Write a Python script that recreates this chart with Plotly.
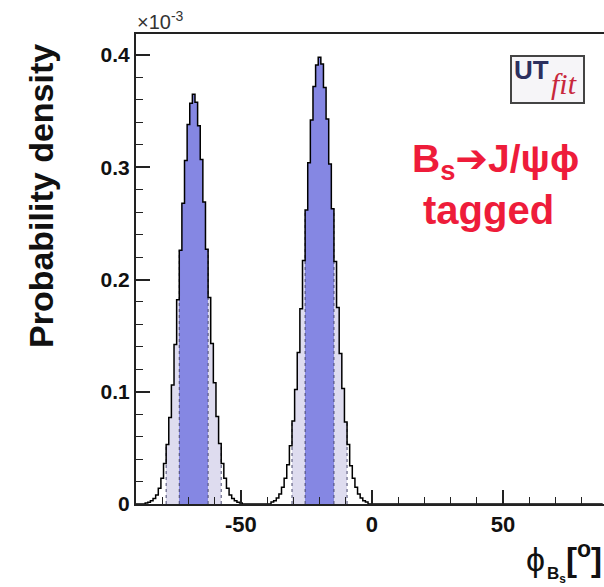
import plotly.graph_objects as go

# ---------------- data ----------------
# histogram of phi_Bs (1-degree bins, centres given), values in units of 1e-3
peak1_start = -86          # centre of first bin of peak 1
peak1_vals = [0.001, 0.0015, 0.003, 0.005, 0.008, 0.014, 0.023, 0.036, 0.053, 0.077,
              0.106, 0.142, 0.182, 0.226, 0.268, 0.306, 0.338, 0.357, 0.365, 0.358,
              0.337, 0.307, 0.269, 0.227, 0.184, 0.143, 0.108, 0.078, 0.054, 0.036,
              0.023, 0.014, 0.008, 0.005, 0.003, 0.0015, 0.001]
peak2_start = -38          # centre of first bin of peak 2
peak2_vals = [0.0017, 0.003, 0.0053, 0.009, 0.015, 0.023, 0.035, 0.052, 0.074, 0.102,
              0.135, 0.174, 0.217, 0.262, 0.304, 0.342, 0.372, 0.391, 0.398, 0.392,
              0.371, 0.343, 0.303, 0.263, 0.216, 0.175, 0.134, 0.103, 0.073, 0.053,
              0.034, 0.023, 0.015, 0.009, 0.0053, 0.003, 0.0017]
# probability intervals (68% dark, 95% light)
dark_bands = [(-73.5, -62.5), (-25.5, -14.5)]
light_bands = [(-78.5, -57.5), (-30.5, -9.5)]

x_range = [-90, 88.5]
y_range = [0, 0.4187]
y_tickvals = [0, 0.1, 0.2, 0.3, 0.4]
y_ticktext = ["0", "0.1", "0.2", "0.3", "0.4"]
x_tickvals = [-50, 0, 50]
x_ticktext = ["-50", "0", "50"]

# ---------------- build full histogram ----------------
centres = list(range(-90, 89))
vals = [0.0] * len(centres)
for start, pv in ((peak1_start, peak1_vals), (peak2_start, peak2_vals)):
    for i, v in enumerate(pv):
        vals[centres.index(start + i)] = v

DARK = "#8587e3"
LIGHT = "#dedcef"


def colour(c):
    for a, b in dark_bands:
        if a < c < b:
            return DARK
    for a, b in light_bands:
        if a < c < b:
            return LIGHT
    return "rgba(0,0,0,0)"


fig = go.Figure()
fig.add_trace(go.Bar(x=centres, y=vals, width=1,
                     marker=dict(color=[colour(c) for c in centres], line=dict(width=0)),
                     showlegend=False, hoverinfo="skip"))

# dotted edges of the bands
for bands in (light_bands, dark_bands):
    for a, b in bands:
        for e, inner in ((a, a + 0.5), (b, b - 0.5)):
            h = vals[centres.index(int(round(inner)))]
            fig.add_trace(go.Scatter(x=[e, e], y=[0, h], mode="lines",
                                     line=dict(color="#4a4a70", width=1, dash="dot"),
                                     showlegend=False, hoverinfo="skip"))

# step outline
fig.add_trace(go.Scatter(x=centres, y=vals, mode="lines", line_shape="hvh",
                         line=dict(color="black", width=1.5),
                         showlegend=False, hoverinfo="skip"))

FONT = "Liberation Sans, Arial, sans-serif"

fig.update_layout(
    width=604, height=587,
    margin=dict(l=136, r=0, t=34, b=83),
    paper_bgcolor="white", plot_bgcolor="white",
    bargap=0,
    xaxis=dict(range=x_range, showgrid=False, zeroline=False,
               showline=True, linecolor="#222", linewidth=2, mirror=True,
               ticks="inside", ticklen=14, tickwidth=1.5, tickcolor="#222",
               tickvals=x_tickvals, ticktext=x_ticktext,
               tickfont=dict(family=FONT, size=22, color="#111", weight="bold"),
               minor=dict(ticks="inside", ticklen=7, dtick=10, tick0=0,
                          tickcolor="#222", tickwidth=1.2),
               layer="above traces"),
    yaxis=dict(range=y_range, showgrid=False, zeroline=False,
               showline=True, linecolor="#222", linewidth=2,
               ticks="inside", ticklen=14, tickwidth=1.5, tickcolor="#222",
               tickvals=y_tickvals, ticktext=y_ticktext,
               tickfont=dict(family=FONT, size=21, color="#111", weight="bold"),
               minor=dict(ticks="inside", ticklen=7, dtick=0.02, tick0=0,
                          tickcolor="#222", tickwidth=1.2),
               layer="above traces"),
)


def px(x):
    return (x - 136) / 468


def py(y):
    return (504 - y) / 470


ann = []
ann.append(dict(text="<b>Probability density</b>", textangle=-90,
                x=px(41), y=py(196), xref="paper", yref="paper",
                showarrow=False, font=dict(family=FONT, size=34, color="#111"),
                xanchor="center", yanchor="middle"))
ann.append(dict(text="×10<sup>-3</sup>", x=px(135), y=py(20), xref="paper", yref="paper",
                showarrow=False, font=dict(family=FONT, size=20, color="#333"),
                xanchor="left", yanchor="middle"))
RED = "#ee1c3a"
ann.append(dict(text="<b>B<sub>s</sub></b><span style='font-family:DejaVu Sans'>➔</span><b>J/ψϕ</b>",
                x=px(495), y=py(161),
                xref="paper", yref="paper", showarrow=False,
                font=dict(family=FONT, size=39, color=RED),
                xanchor="center", yanchor="middle"))
ann.append(dict(text="<b>tagged</b>", x=px(488), y=py(210),
                xref="paper", yref="paper", showarrow=False,
                font=dict(family=FONT, size=40, color=RED),
                xanchor="center", yanchor="middle"))
# UTfit logo
ann.append(dict(text="<b>UT</b>", x=px(531), y=py(70), xref="paper", yref="paper",
                showarrow=False, font=dict(family=FONT, size=26, color="#2c2f5e"),
                xanchor="center", yanchor="middle"))
ann.append(dict(text="<i>fit</i>", x=px(564), y=py(83), xref="paper", yref="paper",
                showarrow=False, font=dict(family="Liberation Serif, serif", size=30, color="#c8283c"),
                xanchor="center", yanchor="middle"))
# x-axis title
ann.append(dict(text="ϕ", x=px(535), y=py(559), xref="paper", yref="paper",
                showarrow=False, font=dict(family=FONT, size=34, color="#111"),
                xanchor="center", yanchor="middle"))
ann.append(dict(text="<b>B<sub>s</sub></b>", x=px(556), y=py(575), xref="paper", yref="paper",
                showarrow=False, font=dict(family=FONT, size=17, color="#111"),
                xanchor="center", yanchor="middle"))
ann.append(dict(text="<b>[<sup>o</sup>]</b>", x=px(604), y=py(557), xref="paper", yref="paper",
                showarrow=False, font=dict(family=FONT, size=33, color="#111"),
                xanchor="right", yanchor="middle"))
fig.update_layout(annotations=ann)

fig.add_shape(type="rect", xref="paper", yref="paper",
              x0=px(511), x1=px(584), y0=py(103), y1=py(56),
              line=dict(color="#444", width=2), fillcolor="#f6f5f8", layer="below")

fig.write_html("out.html")
